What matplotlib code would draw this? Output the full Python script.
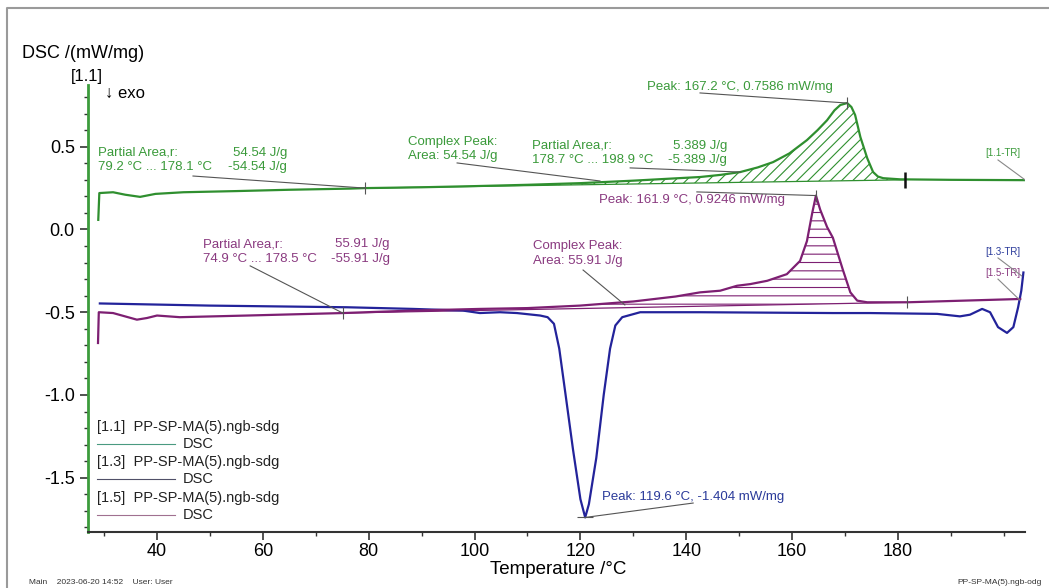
import numpy as np
import matplotlib
matplotlib.use("Agg")
import matplotlib.pyplot as plt
from matplotlib.lines import Line2D
from matplotlib.ticker import MultipleLocator

plt.rcParams["font.family"] = ["Liberation Sans", "DejaVu Sans"]
plt.rcParams["axes.unicode_minus"] = False
plt.rcParams["hatch.linewidth"] = 0.8


# =========================
# Data
# =========================

# [1.1] green curve
green_T = [28.9, 29.1, 31.7, 34.0, 36.8, 39.7, 45.0, 55.0, 65.0, 76.5, 79.3, 90.0,
           100.0, 110.0, 120.0, 130.0, 142.6, 146.5, 150.2, 153.5, 156.4, 159.5,
           162.8, 164.8, 166.6, 168.0, 169.1, 170.4, 171.2, 171.9, 172.9, 174.2,
           175.3, 176.2, 177.2, 180.4, 190.0, 204.0]
green_v = [0.058, 0.22, 0.225, 0.21, 0.197, 0.215, 0.225, 0.232, 0.24, 0.247, 0.25, 0.255,
           0.262, 0.27, 0.28, 0.295, 0.317, 0.33, 0.347, 0.375, 0.407, 0.46,
           0.54, 0.60, 0.66, 0.72, 0.752, 0.764, 0.74, 0.692, 0.558, 0.43,
           0.347, 0.32, 0.31, 0.303, 0.30, 0.298]
green_base_T = [79.3, 181.3]
green_base_v = [0.25, 0.30]
green_peak = (170.4, 0.764)

# [1.5] purple curve
purple_T = [28.85, 29.0, 31.7, 36.2, 38.1, 40.0, 44.3, 57.0, 75.1, 88.4, 101.0, 110.0,
            119.9, 130.0, 138.0, 142.6, 146.4, 149.6, 152.1, 155.3, 159.0, 161.5,
            162.8, 163.8, 164.5, 165.3, 166.6, 167.7, 169.6, 171.0, 172.3, 174.2,
            181.7, 203.1]
purple_v = [-0.686, -0.50, -0.505, -0.545, -0.535, -0.52, -0.53, -0.52, -0.505, -0.49, -0.48, -0.475,
            -0.46, -0.435, -0.405, -0.38, -0.37, -0.34, -0.33, -0.31, -0.27, -0.19,
            -0.07, 0.10, 0.205, 0.12, 0.015, -0.05, -0.245, -0.38, -0.43, -0.44,
            -0.44, -0.42]
purple_base_T = [75.1, 181.7]
purple_base_v = [-0.505, -0.44]
purple_peak = (164.5, 0.205)

# [1.3] blue curve
blue_T = [29.2, 50.0, 75.9, 88.4, 97.8, 101.0, 104.8, 108.0, 112.4, 113.8, 115.0, 116.0,
          117.2, 118.6, 120.0, 120.9, 121.6, 123.0, 124.4, 125.6, 126.6, 127.9, 131.3,
          142.6, 167.7, 174.7, 187.4, 191.7, 193.6, 195.9, 197.4, 198.9, 200.6,
          201.8, 202.7, 203.3, 203.7]
blue_v = [-0.447, -0.46, -0.47, -0.48, -0.49, -0.505, -0.50, -0.505, -0.52, -0.53, -0.57, -0.72,
          -1.0, -1.33, -1.63, -1.74, -1.66, -1.38, -1.0, -0.72, -0.58, -0.53, -0.50,
          -0.50, -0.505, -0.505, -0.51, -0.525, -0.515, -0.48, -0.50, -0.59, -0.625,
          -0.59, -0.47, -0.37, -0.26]
blue_peak = (120.9, -1.74)

legend_ids = ["[1.1]", "[1.3]", "[1.5]"]
file_name = "PP-SP-MA(5).ngb-sdg"

GREEN = "#2f8f2f"
GREEN_TXT = "#3a9a3a"
PURPLE = "#7d1f72"
PURPLE_TXT = "#8a3a80"
BLUE = "#23239a"
BLUE_TXT = "#2a3a9a"


# =========================
# Figure
# =========================

fig = plt.figure(figsize=(10.49, 5.88), dpi=100)
ax = fig.add_axes([88 / 1049, 56 / 588, 937 / 1049, 447 / 588])
ax.set_xlim(26.96, 204.0)
ax.set_ylim(-1.828, 0.873)

ax.plot(green_T, green_v, color=GREEN, lw=1.6, zorder=3)
ax.plot(blue_T, blue_v, color=BLUE, lw=1.6, zorder=3)
ax.plot(purple_T, purple_v, color=PURPLE, lw=1.6, zorder=3)

# baselines + hatched areas
for T, v, bT, bv, col, hatch in [
    (green_T, green_v, green_base_T, green_base_v, GREEN, "///"),
    (purple_T, purple_v, purple_base_T, purple_base_v, PURPLE, "--"),
]:
    T = np.array(T)
    v = np.array(v)
    m = (T >= bT[0]) & (T <= bT[1])
    base = np.interp(T[m], bT, bv)
    ax.fill_between(T[m], v[m], base, facecolor="none", edgecolor=col,
                    hatch=hatch, linewidth=0, zorder=2)
    ax.plot(bT, bv, color=col, lw=0.9, zorder=2)

ax.plot(green_base_T[0], green_base_v[0], marker="|", ms=9, mew=0.8, color="#555555", zorder=4)
ax.plot(green_base_T[1], green_base_v[1], marker="|", ms=12, mew=1.8, color="#111111", zorder=4)
ax.plot(purple_base_T[0], purple_base_v[0], marker="|", ms=9, mew=0.8, color="#555555", zorder=4)
ax.plot(purple_base_T[1], purple_base_v[1], marker="|", ms=9, mew=0.8, color="#555555", zorder=4)
ax.plot(green_peak[0], green_peak[1], marker="|", ms=9, mew=0.8, color="#555555", zorder=4)
ax.plot(purple_peak[0], purple_peak[1], marker="|", ms=9, mew=0.8, color="#555555", zorder=4)
ax.plot(blue_peak[0], blue_peak[1], marker="_", ms=12, mew=0.8, color="#555555", zorder=4)

# axes styling
for s in ["top", "right"]:
    ax.spines[s].set_visible(False)
ax.spines["left"].set_color("#3c9c3c")
ax.spines["left"].set_linewidth(2.0)
ax.spines["bottom"].set_color("#333333")
ax.spines["bottom"].set_linewidth(1.5)

ax.xaxis.set_minor_locator(MultipleLocator(10))
ax.yaxis.set_major_locator(MultipleLocator(0.5))
ax.yaxis.set_minor_locator(MultipleLocator(0.1))
ax.set_xticks([40, 60, 80, 100, 120, 140, 160, 180])
ax.tick_params(axis="both", which="major", direction="out", length=6, width=1.2,
               color="#333333", labelsize=13)
ax.tick_params(axis="x", which="major", pad=2)
ax.tick_params(axis="both", which="minor", direction="out", length=3, width=1.0, color="#333333")
ax.yaxis.set_major_formatter(plt.FuncFormatter(lambda y, p: f"{y:.1f}"))


# =========================
# Annotations
# =========================

fs = 9.5


def block(x_left, x_right, y, left, right, col):
    ax.text(x_left, y, left, color=col, fontsize=fs, va="center", ha="left", linespacing=1.25)
    ax.text(x_right, y, right, color=col, fontsize=fs, va="center", ha="right",
            multialignment="right", linespacing=1.25)


def leader(p0, p1, col="#555555"):
    ax.plot([p0[0], p1[0]], [p0[1], p1[1]], color=col, lw=0.8, zorder=4)


# green
block(28.85, 64.6, 0.42, "Partial Area,r:\n79.2 °C ... 178.1 °C", "54.54 J/g\n-54.54 J/g", GREEN_TXT)
leader((46.8, 0.323), (green_base_T[0], green_base_v[0]))
ax.text(87.4, 0.486, "Complex Peak:\nArea: 54.54 J/g", color=GREEN_TXT, fontsize=fs,
        va="center", linespacing=1.25)
leader((96.7, 0.402), (123.7, 0.293))
block(110.9, 147.7, 0.462, "Partial Area,r:\n178.7 °C ... 198.9 °C", "5.389 J/g\n-5.389 J/g", GREEN_TXT)
leader((129.4, 0.372), (150.2, 0.347))
ax.text(132.6, 0.861, "Peak: 167.2 °C, 0.7586 mW/mg", color=GREEN_TXT, fontsize=fs, va="center")
leader((142.6, 0.825), green_peak)
ax.text(199.9, 0.462, "[1.1-TR]", color=GREEN_TXT, fontsize=7, va="center", ha="center")
leader((198.9, 0.42), (204.0, 0.30), "#888888")

# purple
ax.text(123.5, 0.178, "Peak: 161.9 °C, 0.9246 mW/mg", color=PURPLE_TXT, fontsize=fs, va="center")
leader((142.0, 0.227), purple_peak)
block(48.7, 84.0, -0.133, "Partial Area,r:\n74.9 °C ... 178.5 °C", "55.91 J/g\n-55.91 J/g", PURPLE_TXT)
leader((57.6, -0.22), (purple_base_T[0], purple_base_v[0]))
ax.text(111.05, -0.145, "Complex Peak:\nArea: 55.91 J/g", color=PURPLE_TXT, fontsize=fs,
        va="center", linespacing=1.25)
leader((120.5, -0.245), (128.4, -0.456))
ax.text(199.9, -0.136, "[1.3-TR]", color=BLUE_TXT, fontsize=7, va="center", ha="center")
leader((198.9, -0.172), (203.4, -0.281), "#888888")
ax.text(199.9, -0.263, "[1.5-TR]", color=PURPLE_TXT, fontsize=7, va="center", ha="center")
leader((198.9, -0.30), (203.0, -0.426), "#888888")

# blue
ax.text(124.1, -1.616, "Peak: 119.6 °C, -1.404 mW/mg", color=BLUE_TXT, fontsize=fs, va="center")
leader((141.3, -1.653), blue_peak)

# legend block
leg_cols = ["#4a9a80", "#505068", "#a07090"]
for i, (lid, lc) in enumerate(zip(legend_ids, leg_cols)):
    y_txt = -1.193 - i * 0.2145
    y_line = y_txt - 0.103
    ax.text(28.66, y_txt, f"{lid}  {file_name}", fontsize=10.5, color="#222222", va="center")
    ax.plot([28.66, 43.4], [y_line, y_line], color=lc, lw=0.8)
    ax.text(44.9, y_line, "DSC", fontsize=10.5, color="#222222", va="center")


# =========================
# Figure texts and frame
# =========================

fig.text(22 / 1049, 1 - 53 / 588, "DSC /(mW/mg)", fontsize=13, va="center")
fig.text(87 / 1049, 1 - 77 / 588, "[1.1]", fontsize=12, va="center", ha="center")
fig.text(105 / 1049, 1 - 93 / 588, "↓ exo", fontsize=12, va="center")
fig.text(558 / 1049, 1 - 569 / 588, "Temperature /°C", fontsize=13.5, va="center", ha="center")
fig.text(29 / 1049, 1 - 582 / 588, "Main    2023-06-20 14:52    User: User", fontsize=6, va="center",
         color="#333333")
fig.text(1042 / 1049, 1 - 583 / 588, "PP-SP-MA(5).ngb-odg", fontsize=6, va="center", ha="right",
         color="#333333")

fig.add_artist(Line2D([7 / 1049, 7 / 1049, 1.0], [0.0, 1 - 8 / 588, 1 - 8 / 588],
                      transform=fig.transFigure, color="#9a9a9a", lw=1.5))

fig.savefig("out.png", dpi=100)
